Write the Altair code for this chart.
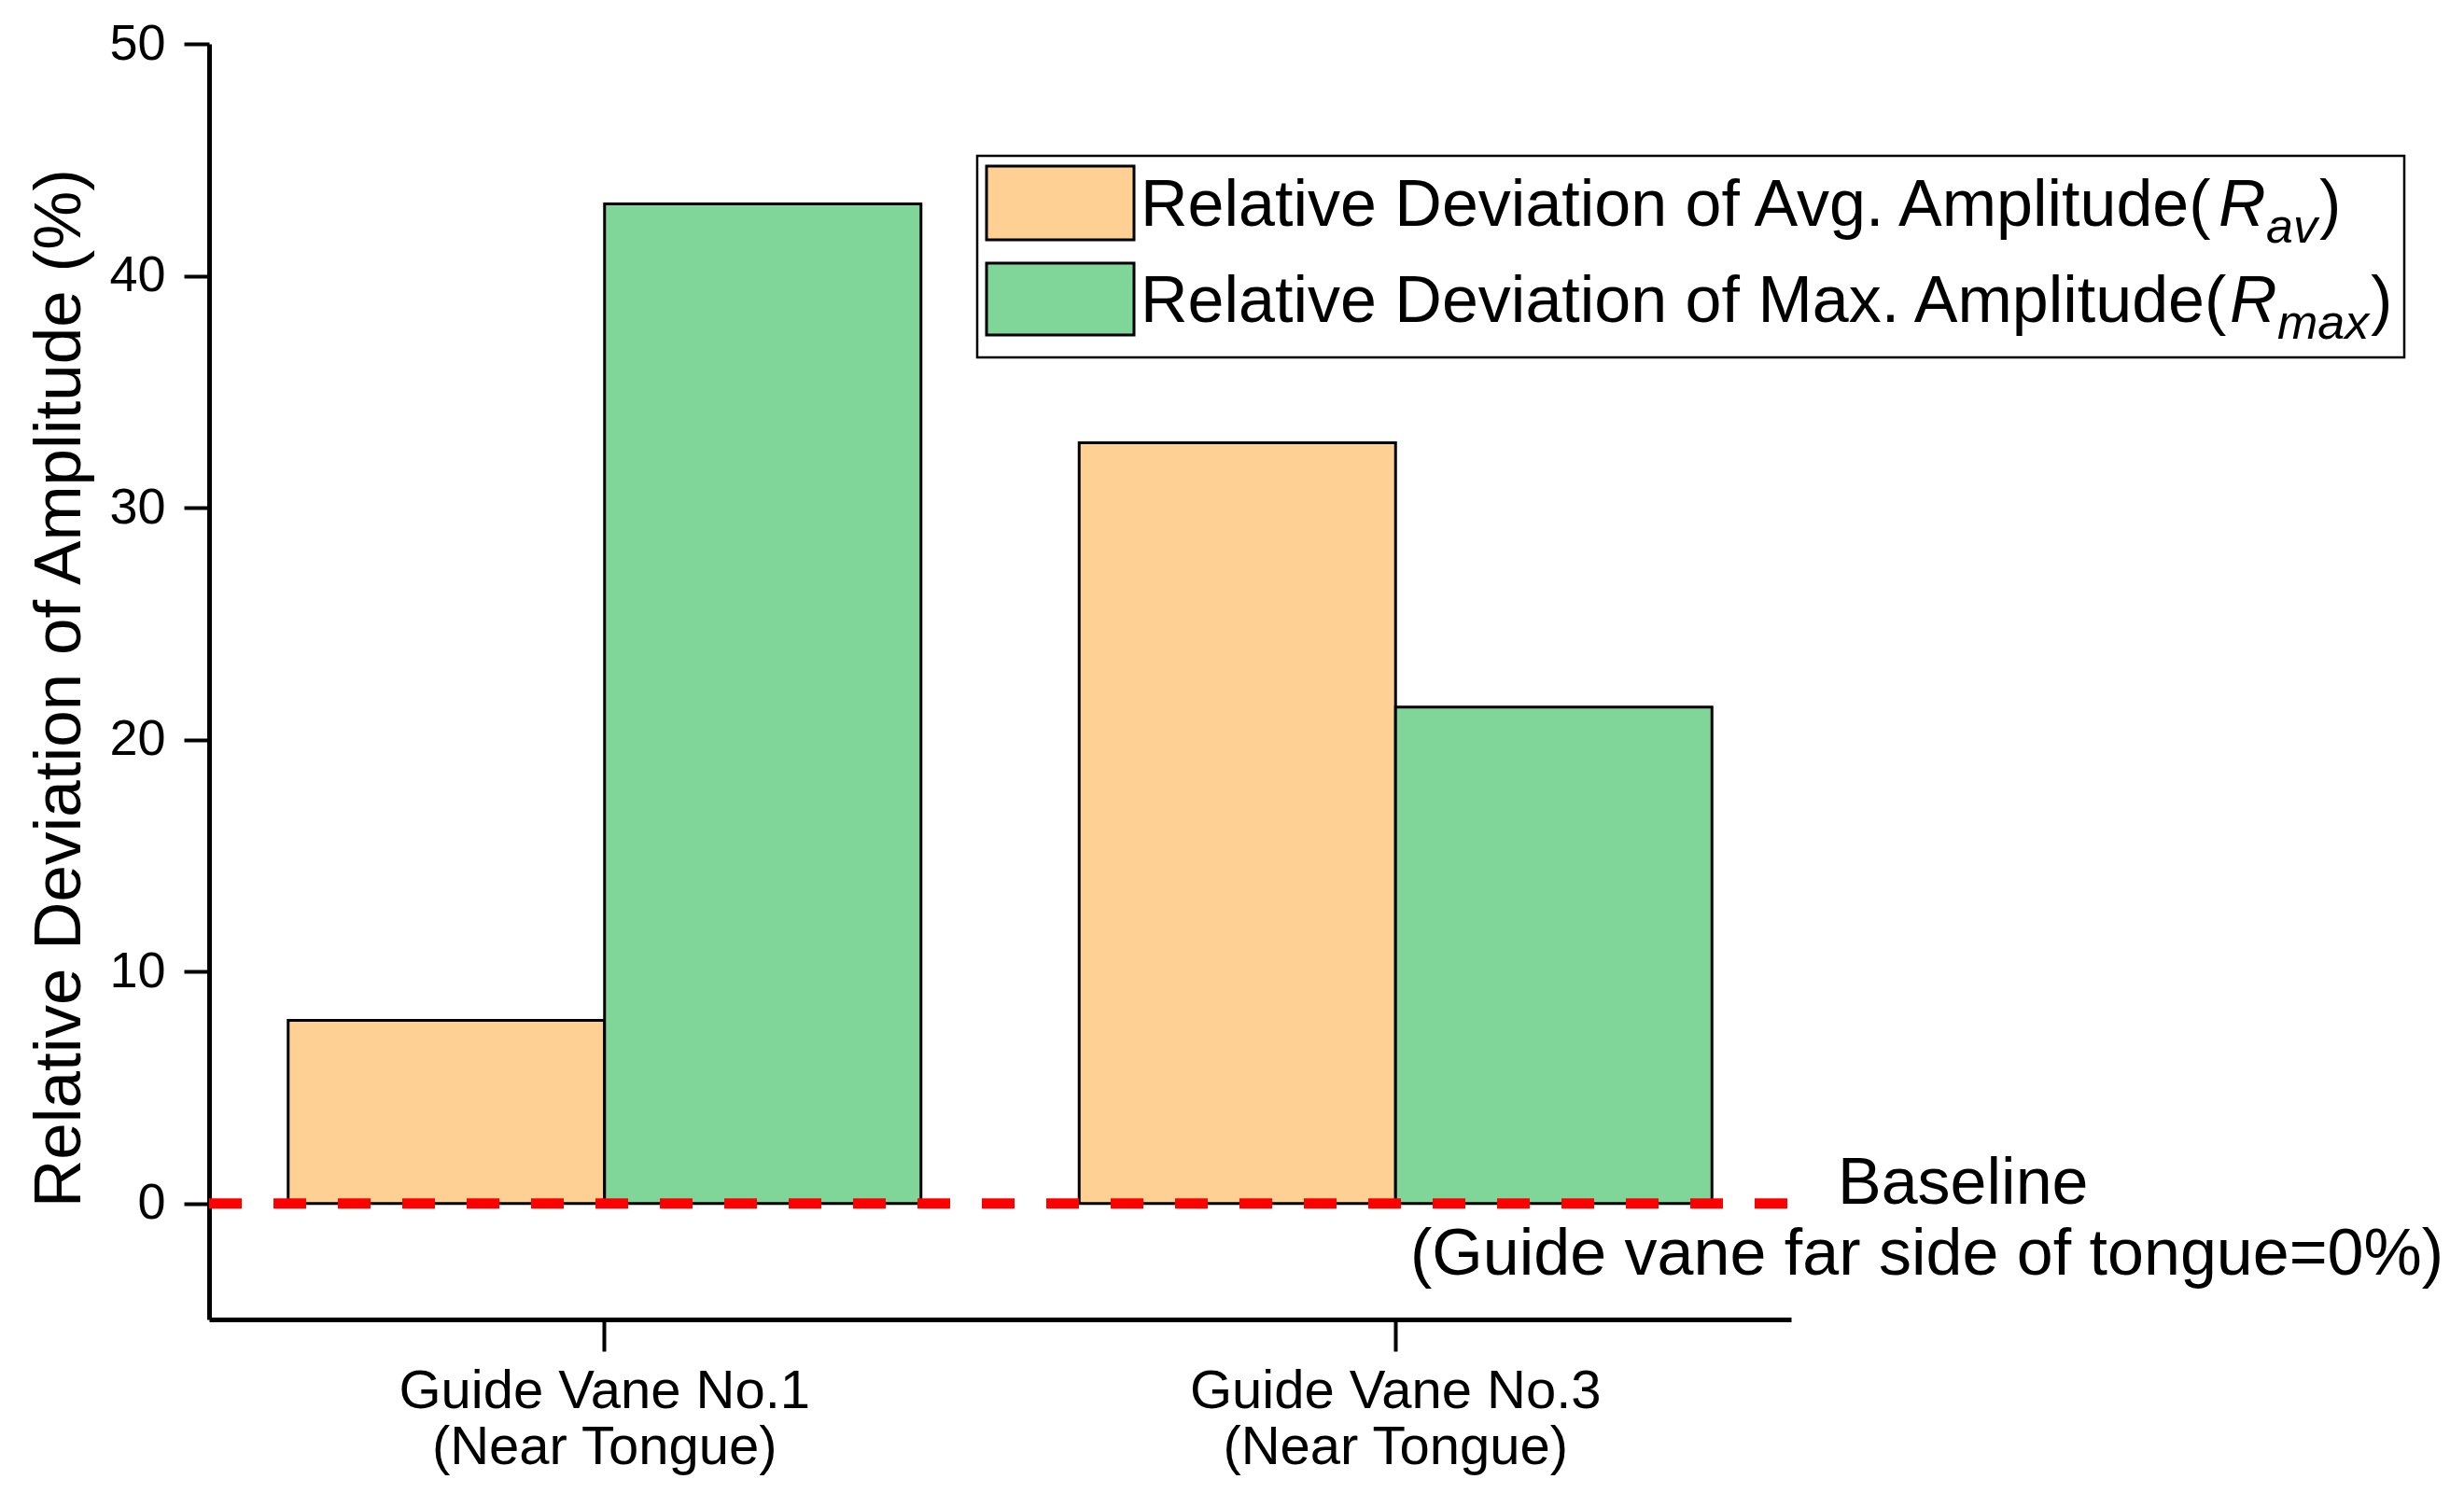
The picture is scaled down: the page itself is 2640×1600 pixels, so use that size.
import altair as alt
import pandas as pd

# ---- data -------------------------------------------------------------
categories = ["Guide Vane No.1", "Guide Vane No.3"]
category_sub = "(Near Tongue)"
series = ["Relative Deviation of Avg. Amplitude", "Relative Deviation of Max. Amplitude"]
r_av = [7.9, 32.8]
r_max = [43.1, 21.4]
y_ticks = [0, 10, 20, 30, 40, 50]
colors = ["#FED093", "#7FD698"]

legend_main = ["Relative Deviation of Avg. Amplitude(", "Relative Deviation of Max. Amplitude("]
legend_sub = ["av", "max"]
baseline_text = ["Baseline", "(Guide vane far side of tongue=0%)"]

rows = []
for i, c in enumerate(categories):
    rows.append({"vane": c, "series": series[0], "value": r_av[i]})
    rows.append({"vane": c, "series": series[1], "value": r_max[i]})
df = pd.DataFrame(rows)
one = pd.DataFrame({"k": [0]})

W, H = 1695, 1367
FONT = "Liberation Sans"

bars = alt.Chart(df).mark_bar(stroke="black", strokeWidth=3).encode(
    x=alt.X(
        "vane:N",
        sort=categories,
        scale=alt.Scale(paddingInner=0.2, paddingOuter=0.1),
        axis=alt.Axis(
            title=None, labelAngle=0,
            labelExpr=f"[datum.label, '{category_sub}']",
            labelFontSize=58, labelLineHeight=60, labelPadding=14, labelLimit=2000,
            labelFont=FONT, labelColor="black",
            tickSize=34, tickWidth=4, tickColor="black",
            domainWidth=5, domainColor="black", grid=False,
        ),
    ),
    xOffset=alt.XOffset("series:N", sort=series, scale=alt.Scale(paddingInner=0, paddingOuter=0)),
    y=alt.Y(
        "value:Q",
        scale=alt.Scale(domain=[-5, 50], nice=False, zero=False),
        axis=alt.Axis(
            values=y_ticks,
            title="Relative Deviation of Amplitude (%)",
            titleFont=FONT, titleFontSize=71, titleFontWeight="normal", titleColor="black",
            titleAngle=270, titleX=-139, titleY=690, titleBaseline="alphabetic", titleAlign="center",
            labelFontSize=54, labelPadding=20, labelFont=FONT, labelColor="black",
            tickSize=27, tickWidth=4, tickColor="black",
            domainWidth=5, domainColor="black", grid=False,
        ),
    ),
    y2=alt.datum(0),
    color=alt.Color("series:N", sort=series, scale=alt.Scale(domain=series, range=colors), legend=None),
)

rule = alt.Chart(one).mark_rule(color="#FF0000", strokeWidth=11, strokeDash=[35, 34]).encode(
    y=alt.datum(0), x=alt.value(0), x2=alt.value(W)
)

ann1 = alt.Chart(one).mark_text(
    align="left", baseline="alphabetic", fontSize=70, font=FONT, color="black"
).encode(x=alt.value(1745), y=alt.datum(0), text=alt.value(baseline_text[0]))
ann2 = alt.Chart(one).mark_text(
    align="left", baseline="alphabetic", fontSize=70, font=FONT, color="black", dy=76
).encode(x=alt.value(1287), y=alt.datum(0), text=alt.value(baseline_text[1]))

# ---- custom legend --------------------------------------------------------
frame = alt.Chart(one).mark_rect(fill="white", stroke="black", strokeWidth=2.5).encode(
    x=alt.value(823), x2=alt.value(2352), y=alt.value(120), y2=alt.value(336)
)

legend_layers = [frame]
row_y = [195, 298]
sw_y = [(131, 210), (235, 312)]
main_w = [1155, 1167]
sub_w = [55, 98]
for i in range(2):
    x0 = 998
    legend_layers.append(
        alt.Chart(one).mark_rect(stroke="black", strokeWidth=3).encode(
            x=alt.value(833), x2=alt.value(991), y=alt.value(sw_y[i][0]), y2=alt.value(sw_y[i][1]),
            color=alt.value(colors[i]),
        )
    )
    legend_layers.append(
        alt.Chart(one).mark_text(align="left", baseline="alphabetic", fontSize=70, font=FONT, color="black").encode(
            x=alt.value(x0), y=alt.value(row_y[i]), text=alt.value(legend_main[i])
        )
    )
    xr = x0 + main_w[i]
    legend_layers.append(
        alt.Chart(one).mark_text(align="left", baseline="alphabetic", fontSize=70, font=FONT,
                                 fontStyle="italic", color="black").encode(
            x=alt.value(xr), y=alt.value(row_y[i]), text=alt.value("R")
        )
    )
    xs = xr + 51
    legend_layers.append(
        alt.Chart(one).mark_text(align="left", baseline="alphabetic", fontSize=52, font=FONT,
                                 fontStyle="italic", color="black").encode(
            x=alt.value(xs), y=alt.value(row_y[i] + 18), text=alt.value(legend_sub[i])
        )
    )
    legend_layers.append(
        alt.Chart(one).mark_text(align="left", baseline="alphabetic", fontSize=70, font=FONT, color="black").encode(
            x=alt.value(xs + sub_w[i] + 2), y=alt.value(row_y[i]), text=alt.value(")")
        )
    )

chart = alt.layer(bars, rule, ann1, ann2, *legend_layers).properties(
    width=W, height=H,
    padding={"left": 216, "top": 39, "right": 713, "bottom": 170},
    autosize=alt.AutoSizeParams(type="none"),
).configure(font=FONT).configure_view(strokeWidth=0, stroke="transparent")

chart.save("out.html", embed_options={"renderer": "svg", "actions": False})
